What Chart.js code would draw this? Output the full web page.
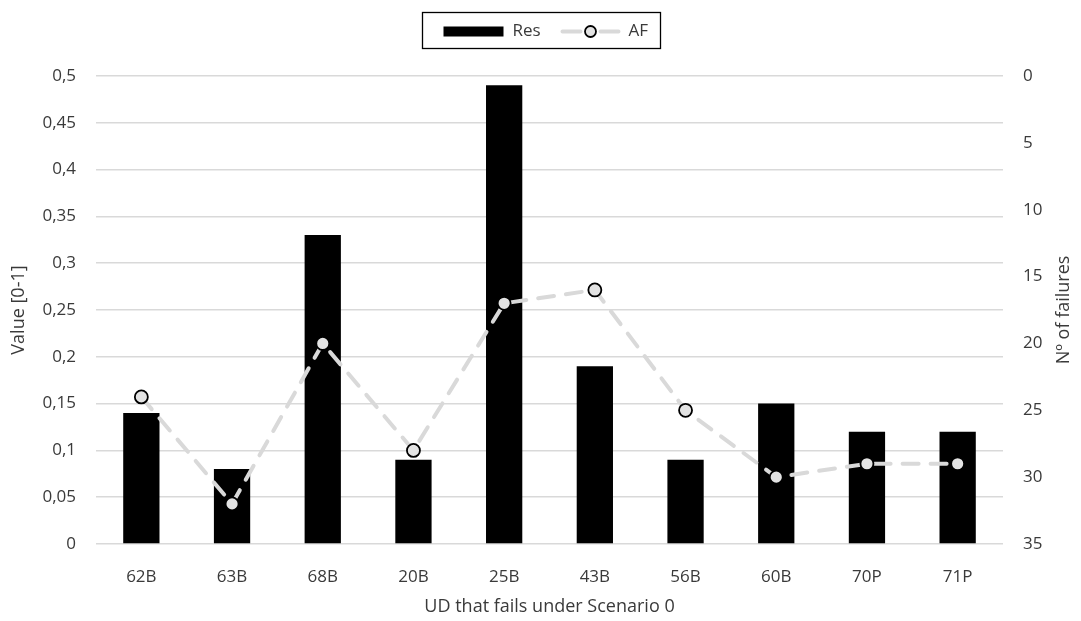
<!DOCTYPE html>
<html>
<head>
<meta charset="utf-8">
<script src="https://cdn.jsdelivr.net/npm/chart.js@4/dist/chart.umd.min.js"></script>
<style>
  html, body { margin: 0; padding: 0; background: #ffffff; }
  #wrap { width: 1081px; height: 621px; position: relative; }
</style>
</head>
<body>
<div id="wrap"><canvas id="chart" width="1081" height="621"></canvas></div>
<script>
// Units that fail under scenario 0
const categories = ['62B', '63B', '68B', '20B', '25B', '43B', '56B', '60B', '70P', '71P'];
// Res value per unit (left axis, 0-1)
const resValues = [0.14, 0.08, 0.33, 0.09, 0.49, 0.19, 0.09, 0.15, 0.12, 0.12];
// AF: number of failures (right axis, reversed)
const afValues = [24, 32, 20, 28, 17, 16, 25, 30, 29, 29];
// Axis tick settings
const leftTicks = { min: 0, max: 0.5, step: 0.05 };
const rightTicks = { min: 0, max: 35, step: 5 };
const seriesNames = ['Res', 'AF'];
const axisTitles = { x: 'UD that fails under Scenario 0', left: 'Value [0-1]', right: 'Nº of failures' };

const FONT = "'Open Sans', 'Noto Sans', sans-serif";
const TEXT = '#3a3a3a';
const GRID = '#d9d9d9';
const LINE = '#d9d9d9';
const MARK_FILL = '#e3e3e3';

// Boxed legend above the plot, plus the right-hand axis title read bottom-to-top
const decorations = {
  id: 'decorations',
  afterDraw(chart) {
    const ctx = chart.ctx;
    const w = 238, h = 36;
    const left = Math.round(chart.width / 2 - w / 2) + 0.5;
    const top = 12.5;
    const cy = top + h / 2 + 1;
    ctx.save();
    ctx.fillStyle = '#ffffff';
    ctx.fillRect(left, top, w, h);
    ctx.strokeStyle = '#000000';
    ctx.lineWidth = 1.3;
    ctx.strokeRect(left, top, w, h);

    // bar swatch
    ctx.fillStyle = '#000000';
    ctx.fillRect(left + 21, cy - 5, 60, 10);
    ctx.font = '17px ' + FONT;
    ctx.fillStyle = TEXT;
    ctx.textBaseline = 'middle';
    ctx.textAlign = 'left';
    ctx.fillText(seriesNames[0], left + 90, cy);

    // line swatch
    ctx.strokeStyle = LINE;
    ctx.lineWidth = 4;
    ctx.lineCap = 'round';
    ctx.beginPath();
    ctx.moveTo(left + 140, cy);
    ctx.lineTo(left + 158, cy);
    ctx.moveTo(left + 178, cy);
    ctx.lineTo(left + 196, cy);
    ctx.stroke();
    ctx.beginPath();
    ctx.arc(left + 168, cy, 5.5, 0, Math.PI * 2);
    ctx.fillStyle = MARK_FILL;
    ctx.fill();
    ctx.strokeStyle = '#000000';
    ctx.lineWidth = 1.8;
    ctx.stroke();
    ctx.fillStyle = TEXT;
    ctx.fillText(seriesNames[1], left + 206, cy);

    // right axis title
    const area = chart.chartArea;
    ctx.translate(chart.width - 17, (area.top + area.bottom) / 2);
    ctx.rotate(-Math.PI / 2);
    ctx.textAlign = 'center';
    ctx.font = '18px ' + FONT;
    ctx.fillText(axisTitles.right, 0, 0);
    ctx.restore();
  }
};

new Chart(document.getElementById('chart'), {
  data: {
    labels: categories,
    datasets: [
      {
        type: 'line',
        label: seriesNames[1],
        data: afValues,
        yAxisID: 'yRight',
        order: 0,
        borderColor: LINE,
        borderWidth: 4,
        borderDash: [16, 12],
        borderCapStyle: 'round',
        tension: 0,
        fill: false,
        pointRadius: 6.5,
        pointBackgroundColor: MARK_FILL,
        pointBorderColor: '#000000',
        pointBorderWidth: 1.8
      },
      {
        type: 'bar',
        label: seriesNames[0],
        data: resValues,
        yAxisID: 'yLeft',
        order: 1,
        backgroundColor: '#000000',
        borderWidth: 0,
        categoryPercentage: 1,
        barPercentage: 0.4
      }
    ]
  },
  options: {
    responsive: false,
    animation: false,
    layout: { padding: { top: 76, left: 0, right: 0, bottom: 0 } },
    plugins: {
      legend: { display: false },
      tooltip: { enabled: false }
    },
    scales: {
      x: {
        grid: { display: false },
        border: { display: false },
        ticks: { color: TEXT, font: { family: FONT, size: 17 }, padding: 15 },
        title: {
          display: true,
          text: axisTitles.x,
          color: TEXT,
          font: { family: FONT, size: 18 },
          padding: { top: 6, bottom: 3 }
        },
        afterFit(s) { s.height = 77; }
      },
      yLeft: {
        position: 'left',
        min: leftTicks.min,
        max: leftTicks.max,
        grid: { color: GRID, lineWidth: 1.6, drawTicks: false },
        border: { display: false },
        ticks: {
          stepSize: leftTicks.step,
          color: TEXT,
          font: { family: FONT, size: 17 },
          padding: 20,
          callback: v => String(Math.round(v * 100) / 100).replace('.', ',')
        },
        title: {
          display: true,
          text: axisTitles.left,
          color: TEXT,
          font: { family: FONT, size: 18 },
          padding: { top: 8, bottom: 2 }
        },
        afterFit(s) { s.width = 96; }
      },
      yRight: {
        position: 'right',
        reverse: true,
        min: rightTicks.min,
        max: rightTicks.max,
        grid: { display: false, drawTicks: false },
        border: { display: false },
        ticks: {
          stepSize: rightTicks.step,
          color: TEXT,
          font: { family: FONT, size: 17 },
          padding: 20
        },
        afterFit(s) { s.width = 78; }
      }
    }
  },
  plugins: [decorations]
});
</script>
</body>
</html>
